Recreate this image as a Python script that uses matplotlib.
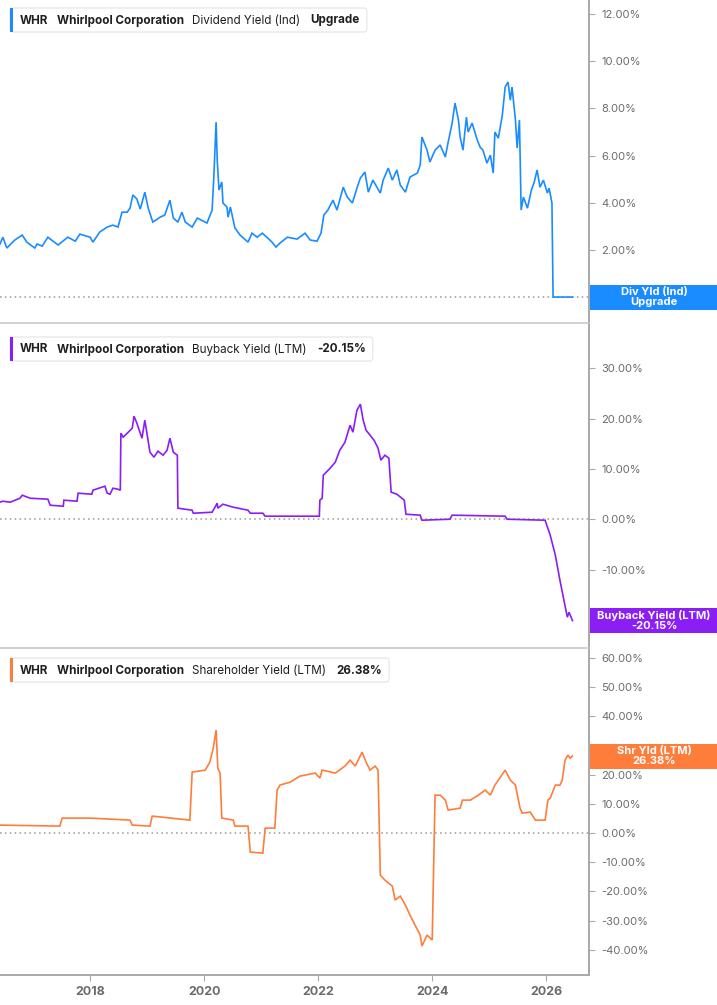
import matplotlib
matplotlib.use("Agg")
import matplotlib.pyplot as plt
from matplotlib.patches import Rectangle, FancyBboxPatch
from matplotlib.ticker import FuncFormatter

plt.rcParams["font.family"] = ["Inter", "DejaVu Sans"]

# --- data (decimal year, percent) ---
div_dates = [2016.42, 2016.47, 2016.54, 2016.68, 2016.81, 2016.89, 2017.03, 2017.07, 2017.16,
             2017.26, 2017.35, 2017.44, 2017.61, 2017.74, 2017.82, 2018.00, 2018.05, 2018.17,
             2018.30, 2018.40, 2018.49, 2018.56, 2018.65, 2018.70, 2018.75, 2018.82, 2018.88,
             2018.96, 2019.02, 2019.10, 2019.23, 2019.31, 2019.40, 2019.46, 2019.54, 2019.61,
             2019.67, 2019.79, 2019.88, 2020.05, 2020.14, 2020.17, 2020.21, 2020.23, 2020.26,
             2020.31, 2020.33, 2020.40, 2020.42, 2020.46, 2020.54, 2020.63, 2020.77, 2020.84,
             2020.93, 2021.02, 2021.10, 2021.19, 2021.26, 2021.33, 2021.46, 2021.54, 2021.63,
             2021.77, 2021.86, 2021.98, 2022.05, 2022.10, 2022.17, 2022.26, 2022.33, 2022.44,
             2022.51, 2022.60, 2022.68, 2022.74, 2022.82, 2022.88, 2022.96, 2023.09, 2023.14,
             2023.23, 2023.30, 2023.38, 2023.44, 2023.53, 2023.61, 2023.74, 2023.79, 2023.82,
             2023.91, 2023.96, 2024.05, 2024.14, 2024.23, 2024.28, 2024.35, 2024.40, 2024.46,
             2024.49, 2024.54, 2024.60, 2024.63, 2024.70, 2024.79, 2024.84, 2024.89, 2024.96,
             2025.02, 2025.07, 2025.10, 2025.16, 2025.23, 2025.28, 2025.33, 2025.37, 2025.40,
             2025.46, 2025.49, 2025.53, 2025.56, 2025.60, 2025.67, 2025.74, 2025.79, 2025.84,
             2025.89, 2025.95, 2026.02, 2026.05, 2026.10, 2026.12, 2026.46]
div_yield = [2.25, 2.54, 2.08, 2.42, 2.63, 2.33, 2.08, 2.25, 2.16,
             2.54, 2.37, 2.21, 2.54, 2.37, 2.67, 2.54, 2.33, 2.76,
             2.97, 3.05, 2.97, 3.60, 3.60, 3.77, 4.33, 4.16, 3.73,
             4.45, 3.77, 3.18, 3.39, 3.48, 4.11, 3.35, 3.18, 3.60,
             3.18, 2.97, 3.35, 3.14, 3.69, 5.09, 7.42, 5.81, 4.54,
             4.88, 3.99, 3.82, 3.39, 3.82, 2.93, 2.63, 2.33, 2.71,
             2.54, 2.71, 2.54, 2.33, 2.12, 2.29, 2.54, 2.50, 2.46,
             2.71, 2.42, 2.37, 2.71, 3.48, 3.69, 4.11, 3.69, 4.66,
             4.24, 3.99, 4.62, 5.05, 5.30, 4.45, 4.96, 4.41, 4.96,
             5.47, 4.96, 5.39, 4.75, 4.45, 5.09, 5.26, 5.60, 6.79,
             6.23, 5.73, 6.23, 6.45, 5.94, 6.57, 7.38, 8.23, 7.51,
             6.79, 6.23, 7.63, 7.00, 7.38, 6.66, 6.36, 6.23, 5.68,
             6.02, 5.26, 7.00, 6.74, 7.72, 8.91, 9.12, 8.35, 8.91,
             7.51, 6.32, 7.51, 3.69, 4.24, 3.77, 4.54, 4.88, 5.39,
             4.66, 4.96, 4.41, 4.62, 3.99, 0.00, 0.00]

buy_dates = [2016.42, 2016.47, 2016.60, 2016.77, 2016.81, 2016.95, 2017.26, 2017.30, 2017.53,
             2017.54, 2017.77, 2017.79, 2018.03, 2018.05, 2018.26, 2018.30, 2018.35, 2018.40,
             2018.49, 2018.53, 2018.54, 2018.58, 2018.67, 2018.74, 2018.77, 2018.82, 2018.91,
             2018.96, 2019.05, 2019.12, 2019.19, 2019.28, 2019.35, 2019.40, 2019.46, 2019.53,
             2019.54, 2019.79, 2019.81, 2020.14, 2020.19, 2020.23, 2020.24, 2020.33, 2020.51,
             2020.77, 2020.81, 2021.03, 2021.07, 2022.02, 2022.03, 2022.07, 2022.09, 2022.21,
             2022.30, 2022.38, 2022.47, 2022.56, 2022.61, 2022.68, 2022.74, 2022.79, 2022.84,
             2022.91, 2022.98, 2023.05, 2023.10, 2023.17, 2023.24, 2023.28, 2023.38, 2023.51,
             2023.54, 2023.79, 2023.82, 2024.31, 2024.35, 2025.28, 2025.31, 2025.98, 2026.07,
             2026.16, 2026.24, 2026.31, 2026.37, 2026.40, 2026.46]
buy_yield = [3.38, 3.58, 3.38, 4.17, 4.77, 4.17, 3.98, 2.78, 2.58,
             3.78, 3.58, 5.17, 4.97, 5.77, 6.56, 5.17, 4.97, 6.16,
             5.96, 5.77, 17.10, 16.30, 17.30, 18.09, 20.48, 19.09, 16.10,
             19.68, 13.32, 12.33, 13.52, 12.72, 13.72, 16.10, 13.32, 12.72,
             2.19, 1.79, 1.19, 1.39, 2.39, 3.18, 2.19, 2.98, 2.39,
             1.79, 1.19, 1.19, 0.60, 0.60, 3.78, 4.17, 8.75, 10.14,
             11.33, 13.72, 15.31, 18.69, 17.30, 21.67, 22.86, 19.68, 17.69,
             16.70, 15.71, 14.12, 11.73, 12.72, 12.13, 5.37, 4.97, 3.78,
             0.99, 0.80, -0.20, 0.00, 0.80, 0.60, 0.00, -0.20, -3.18,
             -7.16, -12.13, -16.10, -19.48, -18.49, -20.15]

shr_dates = [2016.42, 2017.47, 2017.51, 2018.00, 2018.70, 2018.74, 2019.05, 2019.09, 2019.75,
             2019.79, 2020.02, 2020.10, 2020.16, 2020.21, 2020.24, 2020.28, 2020.31, 2020.51,
             2020.54, 2020.77, 2020.81, 2021.03, 2021.07, 2021.24, 2021.28, 2021.33, 2021.51,
             2021.68, 2021.95, 2022.03, 2022.07, 2022.30, 2022.47, 2022.56, 2022.65, 2022.77,
             2022.84, 2022.91, 2023.00, 2023.05, 2023.09, 2023.17, 2023.30, 2023.35, 2023.44,
             2023.53, 2023.61, 2023.70, 2023.79, 2023.82, 2023.91, 2024.00, 2024.05, 2024.14,
             2024.23, 2024.28, 2024.49, 2024.53, 2024.67, 2024.81, 2024.93, 2025.02, 2025.10,
             2025.28, 2025.37, 2025.46, 2025.54, 2025.58, 2025.72, 2025.81, 2025.98, 2026.03,
             2026.07, 2026.16, 2026.24, 2026.28, 2026.33, 2026.38, 2026.42, 2026.46]
shr_yield = [2.74, 2.40, 5.14, 5.14, 4.45, 2.74, 2.40, 5.82, 4.45,
             20.89, 21.58, 24.32, 29.11, 35.27, 22.26, 20.55, 5.14, 4.45,
             2.40, 2.40, -6.51, -6.85, 1.71, 1.71, 14.73, 16.44, 17.47,
             19.52, 20.55, 18.84, 21.58, 20.55, 22.95, 25.00, 22.95, 27.74,
             24.32, 21.58, 22.95, 21.58, -14.38, -16.10, -18.15, -22.95, -21.58,
             -24.66, -28.08, -31.51, -34.93, -38.70, -34.93, -36.64, 13.01, 13.01,
             11.30, 7.88, 8.56, 11.30, 11.30, 13.01, 14.73, 13.01, 16.44,
             21.58, 18.15, 16.44, 8.56, 6.85, 7.19, 4.45, 4.45, 11.30,
             11.99, 16.44, 16.44, 18.15, 25.00, 26.71, 25.68, 26.38]

series = [
    {"dates": div_dates, "vals": div_yield, "color": "#1a8cff",
     "name": "Dividend Yield (Ind)", "last": "Upgrade", "badge": "Div Yld (Ind)\nUpgrade",
     "ylim": (-1.1, 12.6), "ticks": [0, 2, 4, 6, 8, 10, 12], "badge_y": 0.0, "hide": [0]},
    {"dates": buy_dates, "vals": buy_yield, "color": "#8a1ef5",
     "name": "Buyback Yield (LTM)", "last": "-20.15%", "badge": "Buyback Yield (LTM)\n-20.15%",
     "ylim": (-25.6, 39.0), "ticks": [-20, -10, 0, 10, 20, 30], "badge_y": -20.15, "hide": [-20]},
    {"dates": shr_dates, "vals": shr_yield, "color": "#ff7d3b",
     "name": "Shareholder Yield (LTM)", "last": "26.38%", "badge": "Shr Yld (LTM)\n26.38%",
     "ylim": (-48.6, 63.4), "ticks": [-40, -30, -20, -10, 0, 10, 20, 30, 40, 50, 60],
     "badge_y": 26.38, "hide": [30]},
]

W, H = 717, 1005
fig = plt.figure(figsize=(W / 100, H / 100), dpi=100)


def fx(px):
    return px / W


def fy(py):
    return 1 - py / H


spine_x = 589
panels = [(0, 323), (323, 648), (648, 975)]
legend_tops = [8, 337, 658]
grey = "#a8a8a8"
label_col = "#6b6b6b"

renderer = fig.canvas.get_renderer()

for i, (s, (top, bot)) in enumerate(zip(series, panels)):
    ax = fig.add_axes([0, fy(bot), fx(spine_x), (bot - top) / H])
    ax.plot(s["dates"], s["vals"], color=s["color"], lw=1.2, solid_joinstyle="miter")
    ax.axhline(0, color="#999999", lw=1.1, ls=(0, (1, 2.2)), zorder=0)
    ax.set_xlim(2016.42, 2026.75)
    ax.set_ylim(*s["ylim"])
    ax.set_yticks(s["ticks"])
    ax.yaxis.tick_right()
    hide = s["hide"]
    ax.yaxis.set_major_formatter(
        FuncFormatter(lambda v, p, hide=hide: "" if round(v) in hide else f"{v:.2f}%"))
    ax.tick_params(axis="y", length=4, width=0.8, color=grey, labelcolor=label_col,
                   labelsize=8, pad=5)
    for lab in ax.get_yticklabels():
        lab.set_horizontalalignment("left")
    ax.spines["left"].set_visible(False)
    ax.spines["right"].set_color(grey)
    ax.spines["right"].set_linewidth(1.4)
    ax.spines["top"].set_visible(i > 0)
    ax.spines["top"].set_color("#c8c8c8")
    ax.spines["top"].set_linewidth(1.2)
    if i < 2:
        ax.spines["bottom"].set_visible(False)
        ax.set_xticks([])
    else:
        ax.spines["bottom"].set_color(grey)
        ax.spines["bottom"].set_linewidth(1.4)
        ax.set_xticks([2018, 2020, 2022, 2024, 2026])
        ax.set_xticklabels(["2018", "2020", "2022", "2024", "2026"], fontweight="bold")
        ax.tick_params(axis="x", length=4, width=0.8, color=grey, labelcolor=label_col,
                       labelsize=9, pad=4)

    # badge at the last value
    yc = ax.transData.transform((2026.0, s["badge_y"]))[1] / H
    bh = 25 / H
    fig.patches.append(Rectangle((fx(590), yc - bh / 2), fx(W - 590), bh,
                                 transform=fig.transFigure, facecolor=s["color"],
                                 edgecolor="none", zorder=5))
    fig.text(fx(654), yc, s["badge"], color="white", fontsize=8, fontweight="bold",
             ha="center", va="center", linespacing=1.0, zorder=6)

    # legend box
    lt = legend_tops[i]
    yt = fy(lt + 12.5)
    x = 20
    pieces = [("WHR", "bold"), ("Whirlpool Corporation", "bold"),
              (s["name"], "normal"), (s["last"], "bold")]
    gaps = [9, 8, 10, 0]
    for (txt, wgt), g in zip(pieces, gaps):
        t = fig.text(fx(x), yt, txt, fontsize=8.4, fontweight=wgt, color="#1f1f1f",
                     va="center", ha="left", zorder=8)
        bb = t.get_window_extent(renderer)
        x = bb.x1 + g
    box_w = x + 7 - 10
    fig.patches.append(FancyBboxPatch((fx(10), fy(lt + 24)), fx(box_w), 24 / H,
                                      boxstyle="round,pad=0,rounding_size=0.004",
                                      transform=fig.transFigure, facecolor="white",
                                      edgecolor="#e4e4e4", lw=0.8, zorder=7))
    fig.patches.append(Rectangle((fx(10), fy(lt + 24)), fx(3), 24 / H,
                                 transform=fig.transFigure, facecolor=s["color"],
                                 edgecolor="none", zorder=7.5))

fig.savefig("out.png", dpi=100)
